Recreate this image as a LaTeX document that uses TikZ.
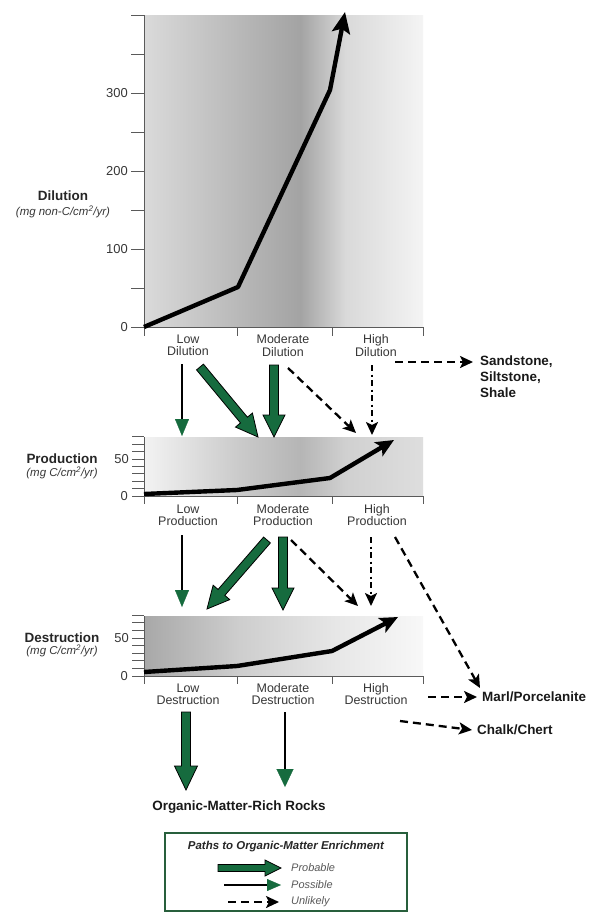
\documentclass[tikz,border=0pt]{standalone}
\usepackage{fontspec}
\setmainfont{Liberation Sans}
\usetikzlibrary{arrows.meta,calc}
\definecolor{pgreen}{RGB}{22,107,62}
\definecolor{lgreen}{RGB}{40,95,60}
\definecolor{labgray}{RGB}{55,55,55}
\definecolor{axgray}{RGB}{90,90,90}
\newcommand{\fatarrow}[5]{%
  \coordinate (fab) at ($(#2)!#5!(#1)$);
  \filldraw[probable] ($(#1)!#3!90:(#2)$) -- ($(fab)!#3!90:(#2)$) -- ($(fab)!#4!90:(#2)$) -- (#2)
    -- ($(fab)!#4!-90:(#2)$) -- ($(fab)!#3!-90:(#2)$) -- ($(#1)!#3!-90:(#2)$) -- cycle;}
\begin{document}
\begin{tikzpicture}[x=1bp,y=-1bp,
  probable/.style={fill=pgreen,draw=black,line width=0.8bp,line join=miter},
  possible/.style={draw=black,line width=2.8bp,-{Triangle[width=14bp,length=17bp,color=pgreen,line width=0.3bp]}},
  unlikely/.style={draw=black,line width=2.3bp,dash pattern=on 8bp off 5bp,-{Stealth[width=12bp,length=13bp,inset=3bp]}},
  dashdotline/.style={draw=black,line width=2.3bp,dash pattern=on 6bp off 3.5bp on 2bp off 3.5bp,-{Stealth[width=12bp,length=13bp,inset=3bp]}},
  curve/.style={draw=black,line width=4.4bp,line join=round,-{Stealth[length=21bp,width=18bp,inset=4bp]}},
  axisln/.style={draw=axgray,line width=0.9bp},
  catlab/.style={align=center,font=\fontsize{12.5}{12.5}\selectfont,text=labgray,inner sep=1bp},
  rocklab/.style={font=\bfseries\fontsize{13.5}{16}\selectfont,align=left,inner sep=1bp,text=black!90},
  ticklab/.style={font=\fontsize{13}{13}\selectfont,text=labgray,anchor=east,inner sep=1bp},
  axtitle/.style={font=\bfseries\fontsize{13.5}{13.5}\selectfont,inner sep=0bp,text=black!85},
  axunit/.style={font=\itshape\fontsize{11.5}{11.5}\selectfont,inner sep=0bp,text=labgray},
  legtxt/.style={font=\itshape\fontsize{11}{11}\selectfont,text=black!65,anchor=west,inner sep=0bp}
]
\useasboundingbox (0,0) rectangle (589,913);
\fill[white] (0,0) rectangle (589,913);

% ---------- Dilution chart ----------
\fill[left color={rgb,255:red,218;green,218;blue,218},right color={rgb,255:red,185;green,185;blue,185}] (144,15) rectangle (237.5,327);
\fill[left color={rgb,255:red,185;green,185;blue,185},right color={rgb,255:red,163;green,163;blue,163}] (237,15) rectangle (300.5,327);
\fill[left color={rgb,255:red,163;green,163;blue,163},right color={rgb,255:red,217;green,217;blue,217}] (300,15) rectangle (345.5,327);
\fill[left color={rgb,255:red,217;green,217;blue,217},right color={rgb,255:red,244;green,244;blue,244}] (345,15) rectangle (423,327);
\draw[axisln] (144,15) -- (144,327) -- (423,327);
\foreach \v in {0,50,...,400} \draw[axisln] (131,{327-0.78*\v}) -- (144,{327-0.78*\v});
\foreach \x in {144,237,332,423} \draw[axisln] (\x,327) -- (\x,336);
\node[ticklab] (d0) at (129,327) {0};
\node[ticklab] (d100) at (129,249) {100};
\node[ticklab] (d200) at (129,171) {200};
\node[ticklab] (d300) at (129,93) {300};
\node[axtitle] (dtit) at (63,196) {Dilution};
\node[axunit] (dunit) at (63,212) {(mg non-C/cm\textsuperscript{2}/yr)};
\draw[curve] (144,327) -- (238,287) -- (330,90) -- (345,12);
\node[catlab] (dl) at (188,345.5) {Low\\Dilution};
\node[catlab] (dm) at (283,345.5) {Moderate\\Dilution};
\node[catlab] (dh) at (376,345.5) {High\\Dilution};

% ---------- Production chart ----------
\fill[left color={rgb,255:red,243;green,243;blue,243},right color={rgb,255:red,203;green,203;blue,203}] (144,437) rectangle (237.5,496);
\fill[left color={rgb,255:red,203;green,203;blue,203},right color={rgb,255:red,181;green,181;blue,181}] (237,437) rectangle (300.5,496);
\fill[left color={rgb,255:red,181;green,181;blue,181},right color={rgb,255:red,208;green,208;blue,208}] (300,437) rectangle (345.5,496);
\fill[left color={rgb,255:red,208;green,208;blue,208},right color={rgb,255:red,222;green,222;blue,222}] (345,437) rectangle (423,496);
\draw[axisln] (144,437) -- (144,496) -- (423,496);
\foreach \v in {0,10,...,80} \draw[axisln] (132,{496-0.74*\v}) -- (144,{496-0.74*\v});
\foreach \x in {144,237,332,423} \draw[axisln] (\x,496) -- (\x,504);
\node[ticklab] (p0) at (129,496) {0};
\node[ticklab] (p50) at (130,459) {50};
\node[axtitle] (ptit) at (62,459) {Production};
\node[axunit] (punit) at (62,473) {(mg C/cm\textsuperscript{2}/yr)};
\draw[curve,-{Stealth[length=18bp,width=16bp,inset=4bp]}] (144,494) -- (237,490) -- (330,478) -- (394,440);
\node[catlab] (pl) at (188,515) {Low\\Production};
\node[catlab] (pm) at (283,515) {Moderate\\Production};
\node[catlab] (ph) at (377,515) {High\\Production};

% ---------- Destruction chart ----------
\fill[left color={rgb,255:red,168;green,168;blue,168},right color={rgb,255:red,205;green,205;blue,205}] (144,616) rectangle (237.5,676);
\fill[left color={rgb,255:red,205;green,205;blue,205},right color={rgb,255:red,230;green,230;blue,230}] (237,616) rectangle (332.5,676);
\fill[left color={rgb,255:red,230;green,230;blue,230},right color={rgb,255:red,248;green,248;blue,248}] (332,616) rectangle (423,676);
\draw[axisln] (144,616) -- (144,676) -- (423,676);
\foreach \v in {0,10,...,80} \draw[axisln] (132,{676-0.76*\v}) -- (144,{676-0.76*\v});
\foreach \x in {144,237,332,423} \draw[axisln] (\x,676) -- (\x,684);
\node[ticklab] (x0) at (129,676) {0};
\node[ticklab] (x50) at (130,638) {50};
\node[axtitle] (xtit) at (62,638) {Destruction};
\node[axunit] (xunit) at (62,651) {(mg C/cm\textsuperscript{2}/yr)};
\draw[curve,-{Stealth[length=18bp,width=16bp,inset=4bp]}] (144,672) -- (237,666) -- (332,651) -- (398,617);
\node[catlab] (xl) at (188,694) {Low\\Destruction};
\node[catlab] (xm) at (283,694) {Moderate\\Destruction};
\node[catlab] (xh) at (376,694) {High\\Destruction};

% ---------- outcome labels ----------
\node[rocklab,anchor=west] (ss) at (479,377) {Sandstone,\\Siltstone,\\Shale};
\node[rocklab,anchor=west] (marl) at (481,697) {Marl/Porcelanite};
\node[rocklab,anchor=west] (chalk) at (476,730) {Chalk/Chert};
\node[rocklab] (omr) at (239,807) {Organic-Matter-Rich Rocks};

% ---------- connector coordinates ----------
\coordinate (a1s) at (182,364); \coordinate (a1e) at (182,436);
\coordinate (a2s) at (200,367); \coordinate (a2e) at (258,437);
\coordinate (a3s) at (274,365); \coordinate (a3e) at (274,437);
\coordinate (a4s) at (288,368); \coordinate (a4e) at (356,433);
\coordinate (a5s) at (372,365); \coordinate (a5e) at (372,435);
\coordinate (a6s) at (395,362); \coordinate (a6e) at (473,362);
\coordinate (b1s) at (182,535); \coordinate (b1e) at (182,607);
\coordinate (b2s) at (267,540); \coordinate (b2e) at (207,609);
\coordinate (b3s) at (283,537); \coordinate (b3e) at (283,610);
\coordinate (b4s) at (291,540); \coordinate (b4e) at (358,606);
\coordinate (b5s) at (371,537); \coordinate (b5e) at (371,606);
\coordinate (b6s) at (395,537); \coordinate (b6e) at (480,688);
\coordinate (c1s) at (186,712); \coordinate (c1e) at (186,790);
\coordinate (c2s) at (285,712); \coordinate (c2e) at (285,787);
\coordinate (c3s) at (428,697); \coordinate (c3e) at (477,697);
\coordinate (c4s) at (400,721); \coordinate (c4e) at (472,730);

% Dilution -> Production
\draw[possible] (a1s) -- (a1e);
\fatarrow{a2s}{a2e}{4.5bp}{11bp}{22bp}
\fatarrow{a3s}{a3e}{4.5bp}{11bp}{22bp}
\draw[unlikely] (a4s) -- (a4e);
\draw[dashdotline] (a5s) -- (a5e);
\draw[unlikely] (a6s) -- (a6e);
% Production -> Destruction
\draw[possible] (b1s) -- (b1e);
\fatarrow{b2s}{b2e}{4.5bp}{11bp}{22bp}
\fatarrow{b3s}{b3e}{4.5bp}{11bp}{22bp}
\draw[unlikely] (b4s) -- (b4e);
\draw[dashdotline] (b5s) -- (b5e);
\draw[unlikely] (b6s) -- (b6e);
% Destruction -> rocks
\fatarrow{c1s}{c1e}{4.5bp}{11.5bp}{24bp}
\draw[possible,-{Triangle[width=17bp,length=18bp,color=pgreen,line width=0.3bp]}] (c2s) -- (c2e);
\draw[unlikely] (c3s) -- (c3e);
\draw[unlikely] (c4s) -- (c4e);

% ---------- legend ----------
\node[draw=lgreen,line width=1.5bp,fill=white,minimum width=242bp,minimum height=78bp,inner sep=0bp] (leg) at (286,872) {};
\node[font=\bfseries\itshape\fontsize{11.5}{11.5}\selectfont,text=black!85,inner sep=0bp] (legt) at (286,847) {Paths to Organic-Matter Enrichment};
\coordinate (l1s) at (218,868); \coordinate (l1e) at (281,868);
\coordinate (l2s) at (224,885); \coordinate (l2e) at (281,885);
\coordinate (l3s) at (228,902); \coordinate (l3e) at (279,902);
\fatarrow{l1s}{l1e}{3.5bp}{8bp}{16bp}
\draw[possible,-{Triangle[width=12bp,length=14bp,color=pgreen,line width=0.3bp]}] (l2s) -- (l2e);
\draw[unlikely] (l3s) -- (l3e);
\node[legtxt] (lp1) at (291,868) {Probable};
\node[legtxt] (lp2) at (291,885) {Possible};
\node[legtxt] (lp3) at (291,902) {Unlikely};
\end{tikzpicture}
\end{document}
